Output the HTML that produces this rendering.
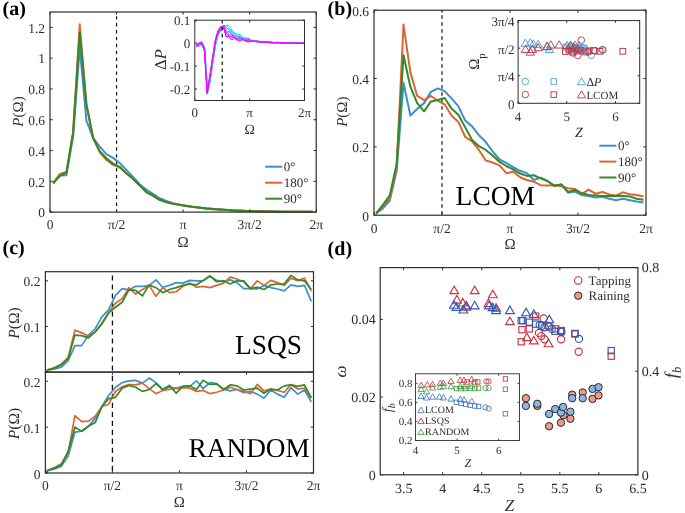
<!DOCTYPE html>
<html><head><meta charset="utf-8"><style>
html,body{margin:0;padding:0;background:#fff;}
svg{display:block;font-family:"Liberation Serif",serif;text-rendering:geometricPrecision;will-change:transform;}
</style></head><body>
<svg width="685" height="513" viewBox="0 0 685 513">
<line x1="116.55" y1="12" x2="116.55" y2="212.1" stroke="#111" stroke-width="1.2" stroke-dasharray="3.4,3.5" stroke-dashoffset="2.7"/>
<polyline points="53.13,183.32 59.78,175.47 66.44,175.16 73.09,136.68 79.75,47.4 86.4,120.67 93.06,137.76 99.71,146.68 106.37,154.07 113.02,157.92 119.68,163 126.33,169.93 132.99,176.85 139.64,184.24 146.3,189.63 152.95,193.94 159.61,198.25 166.26,201.02 172.92,203.17 179.57,204.56 186.23,205.79 192.88,206.71 199.54,207.48 206.19,208.25 212.85,208.87 219.5,209.33 226.16,209.79 232.81,210.25 239.47,210.56 246.12,210.87 252.78,211.02 259.43,211.18 266.09,211.33 272.74,211.48 279.4,211.48 286.05,211.64 292.71,211.64 299.36,211.79 306.02,211.79 312.67,211.79" fill="none" stroke="#3F8FCB" stroke-width="2.0" stroke-linejoin="round" />
<polyline points="53.13,182.85 59.78,174.08 66.44,172.08 73.09,132.83 79.75,24.31 86.4,104.35 93.06,137.76 99.71,152.07 106.37,159.77 113.02,164.85 119.68,167.46 126.33,173.16 132.99,178.85 139.64,185.63 146.3,192.09 152.95,195.94 159.61,200.09 166.26,202.25 172.92,203.79 179.57,205.02 186.23,206.1 192.88,207.02 199.54,207.79 206.19,208.56 212.85,209.18 219.5,209.64 226.16,210.1 232.81,210.41 239.47,210.71 246.12,211.02 252.78,211.18 259.43,211.33 266.09,211.48 272.74,211.48 279.4,211.64 286.05,211.64 292.71,211.79 299.36,211.79 306.02,211.79 312.67,211.79" fill="none" stroke="#DC6437" stroke-width="2.0" stroke-linejoin="round" />
<polyline points="53.13,183.32 59.78,176.08 66.44,172.54 73.09,132.83 79.75,32.63 86.4,104.35 93.06,137.76 99.71,151.15 106.37,158.23 113.02,163.61 119.68,166.85 126.33,173.16 132.99,178.85 139.64,185.16 146.3,192.09 152.95,195.32 159.61,199.63 166.26,201.94 172.92,203.63 179.57,204.87 186.23,205.94 192.88,206.87 199.54,207.64 206.19,208.41 212.85,209.02 219.5,209.48 226.16,209.95 232.81,210.41 239.47,210.71 246.12,211.02 252.78,211.18 259.43,211.33 266.09,211.48 272.74,211.48 279.4,211.64 286.05,211.64 292.71,211.79 299.36,211.79 306.02,211.79 312.67,211.79" fill="none" stroke="#338A25" stroke-width="2.0" stroke-linejoin="round" />
<rect x="50" y="12" width="266.2" height="200.1" fill="none" stroke="#2e2e2e" stroke-width="1.2"/>
<line x1="50" y1="212.1" x2="50" y2="209.4" stroke="#2e2e2e" stroke-width="1.0" />
<line x1="50" y1="12" x2="50" y2="14.7" stroke="#2e2e2e" stroke-width="1.0" />
<line x1="116.55" y1="212.1" x2="116.55" y2="209.4" stroke="#2e2e2e" stroke-width="1.0" />
<line x1="116.55" y1="12" x2="116.55" y2="14.7" stroke="#2e2e2e" stroke-width="1.0" />
<line x1="183.1" y1="212.1" x2="183.1" y2="209.4" stroke="#2e2e2e" stroke-width="1.0" />
<line x1="183.1" y1="12" x2="183.1" y2="14.7" stroke="#2e2e2e" stroke-width="1.0" />
<line x1="249.65" y1="212.1" x2="249.65" y2="209.4" stroke="#2e2e2e" stroke-width="1.0" />
<line x1="249.65" y1="12" x2="249.65" y2="14.7" stroke="#2e2e2e" stroke-width="1.0" />
<line x1="316.2" y1="212.1" x2="316.2" y2="209.4" stroke="#2e2e2e" stroke-width="1.0" />
<line x1="316.2" y1="12" x2="316.2" y2="14.7" stroke="#2e2e2e" stroke-width="1.0" />
<line x1="50" y1="212.1" x2="52.7" y2="212.1" stroke="#2e2e2e" stroke-width="1.0" />
<line x1="316.2" y1="212.1" x2="313.5" y2="212.1" stroke="#2e2e2e" stroke-width="1.0" />
<line x1="50" y1="181.32" x2="52.7" y2="181.32" stroke="#2e2e2e" stroke-width="1.0" />
<line x1="316.2" y1="181.32" x2="313.5" y2="181.32" stroke="#2e2e2e" stroke-width="1.0" />
<line x1="50" y1="150.53" x2="52.7" y2="150.53" stroke="#2e2e2e" stroke-width="1.0" />
<line x1="316.2" y1="150.53" x2="313.5" y2="150.53" stroke="#2e2e2e" stroke-width="1.0" />
<line x1="50" y1="119.75" x2="52.7" y2="119.75" stroke="#2e2e2e" stroke-width="1.0" />
<line x1="316.2" y1="119.75" x2="313.5" y2="119.75" stroke="#2e2e2e" stroke-width="1.0" />
<line x1="50" y1="88.96" x2="52.7" y2="88.96" stroke="#2e2e2e" stroke-width="1.0" />
<line x1="316.2" y1="88.96" x2="313.5" y2="88.96" stroke="#2e2e2e" stroke-width="1.0" />
<line x1="50" y1="58.18" x2="52.7" y2="58.18" stroke="#2e2e2e" stroke-width="1.0" />
<line x1="316.2" y1="58.18" x2="313.5" y2="58.18" stroke="#2e2e2e" stroke-width="1.0" />
<line x1="50" y1="27.39" x2="52.7" y2="27.39" stroke="#2e2e2e" stroke-width="1.0" />
<line x1="316.2" y1="27.39" x2="313.5" y2="27.39" stroke="#2e2e2e" stroke-width="1.0" />
<text x="45" y="217.4" font-size="13.5" text-anchor="end" fill="#2e2e2e" >0</text>
<text x="45" y="186.62" font-size="13.5" text-anchor="end" fill="#2e2e2e" >0.2</text>
<text x="45" y="155.83" font-size="13.5" text-anchor="end" fill="#2e2e2e" >0.4</text>
<text x="45" y="125.05" font-size="13.5" text-anchor="end" fill="#2e2e2e" >0.6</text>
<text x="45" y="94.26" font-size="13.5" text-anchor="end" fill="#2e2e2e" >0.8</text>
<text x="45" y="63.48" font-size="13.5" text-anchor="end" fill="#2e2e2e" >1</text>
<text x="45" y="32.69" font-size="13.5" text-anchor="end" fill="#2e2e2e" >1.2</text>
<text x="50" y="228.8" font-size="13.5" text-anchor="middle" fill="#2e2e2e" >0</text>
<text x="116.55" y="228.8" font-size="13.5" text-anchor="middle" fill="#2e2e2e" >π/2</text>
<text x="183.1" y="228.8" font-size="13.5" text-anchor="middle" fill="#2e2e2e" >π</text>
<text x="249.65" y="228.8" font-size="13.5" text-anchor="middle" fill="#2e2e2e" >3π/2</text>
<text x="316.2" y="228.8" font-size="13.5" text-anchor="middle" fill="#2e2e2e" >2π</text>
<text x="183.1" y="246.5" font-size="15" text-anchor="middle" fill="#2e2e2e" >Ω</text>
<text transform="translate(23,111.5) rotate(-90)" font-size="15" text-anchor="middle" fill="#2e2e2e"><tspan font-style="italic">P</tspan>(Ω)</text>
<text x="2.5" y="15.2" font-size="20" text-anchor="start" font-weight="bold" fill="#000" >(a)</text>
<line x1="265.2" y1="166.7" x2="282.3" y2="166.7" stroke="#3F8FCB" stroke-width="2.0" />
<text x="283.8" y="171.2" font-size="13" text-anchor="start" fill="#2e2e2e" >0°</text>
<line x1="265.2" y1="182.7" x2="282.3" y2="182.7" stroke="#DC6437" stroke-width="2.0" />
<text x="283.8" y="187.2" font-size="13" text-anchor="start" fill="#2e2e2e" >180°</text>
<line x1="265.2" y1="198.7" x2="282.3" y2="198.7" stroke="#338A25" stroke-width="2.0" />
<text x="283.8" y="203.2" font-size="13" text-anchor="start" fill="#2e2e2e" >90°</text>
<rect x="194.8" y="20.2" width="109.7" height="80.3" fill="#fff" stroke="none"/>
<polyline points="196.67,46.46 199.41,46.1 202.16,42.66 204.9,49.1 207.64,93.3 210.38,81.27 213.13,61.47 215.87,44.63 218.61,34.18 221.35,30.76 224.1,27.25 226.84,25.03 229.58,26.03 232.32,31.04 235.07,33.71 237.81,34.47 240.55,34.82 243.29,37.39 246.04,38.89 248.78,37.94 251.52,40.58 254.26,40.29 257.01,41.27 259.75,41.63 262.49,41.89 265.23,41.94 267.98,41.71 270.72,42.52 273.46,42.38 276.2,42.33 278.95,42.8 281.69,42.64 284.43,43.31 287.17,43.32 289.92,43.18 292.66,42.98 295.4,43.21 298.14,43.31 300.89,43.06 303.63,43.19" fill="none" stroke="#00ffff" stroke-width="1.0" stroke-linejoin="round" />
<polyline points="196.6,46.49 199.35,43.96 202.09,42.45 204.83,48.81 207.57,92.86 210.32,78.06 213.06,60.17 215.8,43.39 218.54,32.12 221.29,30.35 224.03,26.28 226.77,25.31 229.51,29.42 232.26,30.87 235,35.01 237.74,34.88 240.48,35.84 243.23,37.73 245.97,37.6 248.71,40.25 251.45,40.11 254.2,40.63 256.94,41.08 259.68,41.42 262.42,41.3 265.17,41.41 267.91,42.07 270.65,42.1 273.39,42.88 276.14,42.3 278.88,42.55 281.62,42.26 284.36,42.62 287.11,43.11 289.85,43.02 292.59,42.99 295.33,43.58 298.08,43.18 300.82,43.45 303.56,43.49" fill="none" stroke="#1ce3ff" stroke-width="1.0" stroke-linejoin="round" />
<polyline points="196.54,47.21 199.28,43.96 202.02,44.23 204.77,49.05 207.51,91.91 210.25,80.03 212.99,60.49 215.74,42.12 218.48,32.12 221.22,27.84 223.96,24.92 226.71,28.2 229.45,29.8 232.19,32.28 234.93,33.01 237.68,34.48 240.42,38.25 243.16,39.34 245.9,39.93 248.65,40.69 251.39,40.43 254.13,40.74 256.87,41.45 259.62,41.92 262.36,41.76 265.1,41.99 267.84,42.04 270.59,41.86 273.33,42.33 276.07,42.49 278.81,42.58 281.56,42.57 284.3,43.32 287.04,42.55 289.78,42.66 292.53,42.8 295.27,42.87 298.01,43.24 300.75,43.24 303.5,43.51" fill="none" stroke="#39c6ff" stroke-width="1.0" stroke-linejoin="round" />
<polyline points="196.47,45.31 199.21,46.15 201.96,44.38 204.7,49.43 207.44,93.37 210.18,79.53 212.93,61.34 215.67,42.96 218.41,34.33 221.15,29.05 223.9,27.69 226.64,27.64 229.38,30.39 232.12,33.95 234.87,35.76 237.61,36.98 240.35,38 243.09,39.84 245.84,38.2 248.58,38.42 251.32,40.57 254.06,40.94 256.81,41.69 259.55,41.9 262.29,41.91 265.03,42.14 267.78,41.85 270.52,42.61 273.26,42.97 276,42.12 278.75,42.66 281.49,43.08 284.23,42.87 286.97,43.35 289.72,42.89 292.46,42.7 295.2,42.81 297.94,42.96 300.69,43.36 303.43,43.27" fill="none" stroke="#55aaff" stroke-width="1.0" stroke-linejoin="round" />
<polyline points="196.4,46.76 199.15,43.8 201.89,42.83 204.63,47.85 207.37,93.69 210.12,76.51 212.86,57.59 215.6,40.28 218.34,31.76 221.09,27.33 223.83,25.47 226.57,31.07 229.31,31.92 232.06,34.28 234.8,37.19 237.54,38.54 240.28,38.7 243.03,39.74 245.77,38.96 248.51,38.72 251.25,40.72 254,40.63 256.74,40.94 259.48,41.2 262.22,41.97 264.97,42.23 267.71,42.45 270.45,42.61 273.19,42.83 275.94,42.44 278.68,42.32 281.42,42.47 284.16,42.93 286.91,42.77 289.65,42.64 292.39,43.52 295.13,43 297.88,42.77 300.62,42.88 303.36,42.91" fill="none" stroke="#718eff" stroke-width="1.0" stroke-linejoin="round" />
<polyline points="196.34,45.71 199.08,45.63 201.82,41.96 204.57,49.54 207.31,91.63 210.05,77.25 212.79,58.88 215.54,39.54 218.28,31.71 221.02,29.16 223.76,27.52 226.51,32.66 229.25,31.9 231.99,33.82 234.73,37.52 237.48,36.51 240.22,36.88 242.96,38.79 245.7,40.31 248.45,40.21 251.19,41.14 253.93,41.57 256.67,41.03 259.42,41.55 262.16,41.89 264.9,41.62 267.64,42.31 270.39,42.01 273.13,42.28 275.87,42.85 278.61,42.91 281.36,43 284.1,43.15 286.84,42.83 289.58,43.13 292.33,43.22 295.07,43.48 297.81,42.77 300.55,43.28 303.3,43.18" fill="none" stroke="#8e71ff" stroke-width="1.0" stroke-linejoin="round" />
<polyline points="196.27,45.32 199.01,43.22 201.76,43.09 204.5,47.92 207.24,92.84 209.98,76.26 212.73,59.53 215.47,40.73 218.21,33.15 220.95,29.44 223.7,25.43 226.44,33.95 229.18,34.51 231.92,35.08 234.67,36.92 237.41,38.65 240.15,38.8 242.89,39.45 245.64,39.17 248.38,41.81 251.12,40.87 253.86,41.46 256.61,41.74 259.35,41.52 262.09,41.99 264.83,42.02 267.58,42.06 270.32,42 273.06,42.66 275.8,42.5 278.55,42.68 281.29,42.83 284.03,42.74 286.77,42.96 289.52,42.88 292.26,43.16 295,42.74 297.74,42.96 300.49,42.8 303.23,42.74" fill="none" stroke="#aa55ff" stroke-width="1.0" stroke-linejoin="round" />
<polyline points="196.2,46.31 198.95,44.25 201.69,41.36 204.43,48.42 207.17,93.97 209.92,75.93 212.66,58.77 215.4,40.94 218.14,33.2 220.89,27.05 223.63,25.56 226.37,32.97 229.11,36.76 231.86,36.1 234.6,37.3 237.34,39.78 240.08,38.06 242.83,38.45 245.57,41.24 248.31,39.27 251.05,41.15 253.8,41.34 256.54,41.16 259.28,41.54 262.02,42.38 264.77,42.19 267.51,42.34 270.25,42.55 272.99,42.91 275.74,42.8 278.48,42.48 281.22,43.3 283.96,42.86 286.71,42.97 289.45,43.36 292.19,43.3 294.93,43.03 297.68,43.13 300.42,43.54 303.16,42.7" fill="none" stroke="#c639ff" stroke-width="1.0" stroke-linejoin="round" />
<polyline points="196.14,44.56 198.88,42.85 201.62,44 204.37,50.52 207.11,92.16 209.85,75.9 212.59,58 215.34,39.93 218.08,30.2 220.82,26.31 223.56,27.32 226.31,36.72 229.05,35.53 231.79,37.56 234.53,37.89 237.28,40.48 240.02,41.15 242.76,39.68 245.5,40.83 248.25,42.27 250.99,40.78 253.73,41.31 256.47,41.41 259.22,42.3 261.96,41.82 264.7,42.57 267.44,42.07 270.19,42.47 272.93,42.81 275.67,42.61 278.41,42.29 281.16,43.1 283.9,43.25 286.64,42.89 289.38,43.15 292.13,43.5 294.87,43.45 297.61,43.56 300.35,43.42 303.1,43.32" fill="none" stroke="#e31cff" stroke-width="1.0" stroke-linejoin="round" />
<polyline points="196.07,46.06 198.81,43.46 201.56,43.36 204.3,50.03 207.04,93.35 209.78,76.12 212.53,57.02 215.27,40.8 218.01,30.46 220.75,26.92 223.5,27.62 226.24,37.03 228.98,36.7 231.72,40.05 234.47,38.22 237.21,39.92 239.95,40.18 242.69,39.54 245.44,41.19 248.18,41.06 250.92,41.14 253.66,41.09 256.41,41.91 259.15,41.69 261.89,42.04 264.63,42.1 267.38,42.54 270.12,42.59 272.86,43.09 275.6,43.02 278.35,43.08 281.09,42.69 283.83,43.14 286.57,43.22 289.32,43.29 292.06,42.83 294.8,42.8 297.54,42.99 300.29,43.34 303.03,43.38" fill="none" stroke="#ff00ff" stroke-width="1.0" stroke-linejoin="round" />
<line x1="222.23" y1="20.2" x2="222.23" y2="100.5" stroke="#111" stroke-width="1.2" stroke-dasharray="3.4,3.5"/>
<rect x="194.8" y="20.2" width="109.7" height="80.3" fill="none" stroke="#2e2e2e" stroke-width="1.0"/>
<line x1="194.8" y1="100.5" x2="194.8" y2="98.3" stroke="#2e2e2e" stroke-width="1.0" />
<line x1="194.8" y1="20.2" x2="194.8" y2="22.4" stroke="#2e2e2e" stroke-width="1.0" />
<line x1="249.65" y1="100.5" x2="249.65" y2="98.3" stroke="#2e2e2e" stroke-width="1.0" />
<line x1="249.65" y1="20.2" x2="249.65" y2="22.4" stroke="#2e2e2e" stroke-width="1.0" />
<line x1="304.5" y1="100.5" x2="304.5" y2="98.3" stroke="#2e2e2e" stroke-width="1.0" />
<line x1="304.5" y1="20.2" x2="304.5" y2="22.4" stroke="#2e2e2e" stroke-width="1.0" />
<line x1="194.8" y1="89.03" x2="197" y2="89.03" stroke="#2e2e2e" stroke-width="1.0" />
<line x1="304.5" y1="89.03" x2="302.3" y2="89.03" stroke="#2e2e2e" stroke-width="1.0" />
<line x1="194.8" y1="66.09" x2="197" y2="66.09" stroke="#2e2e2e" stroke-width="1.0" />
<line x1="304.5" y1="66.09" x2="302.3" y2="66.09" stroke="#2e2e2e" stroke-width="1.0" />
<line x1="194.8" y1="43.14" x2="197" y2="43.14" stroke="#2e2e2e" stroke-width="1.0" />
<line x1="304.5" y1="43.14" x2="302.3" y2="43.14" stroke="#2e2e2e" stroke-width="1.0" />
<line x1="194.8" y1="20.2" x2="197" y2="20.2" stroke="#2e2e2e" stroke-width="1.0" />
<line x1="304.5" y1="20.2" x2="302.3" y2="20.2" stroke="#2e2e2e" stroke-width="1.0" />
<text x="190.3" y="24.8" font-size="13" text-anchor="end" fill="#2e2e2e" >0.1</text>
<text x="190.3" y="47.74" font-size="13" text-anchor="end" fill="#2e2e2e" >0</text>
<text x="190.3" y="70.69" font-size="13" text-anchor="end" fill="#2e2e2e" >-0.1</text>
<text x="190.3" y="93.63" font-size="13" text-anchor="end" fill="#2e2e2e" >-0.2</text>
<text x="194.8" y="117" font-size="13" text-anchor="middle" fill="#2e2e2e" >0</text>
<text x="249.65" y="117" font-size="13" text-anchor="middle" fill="#2e2e2e" >π</text>
<text x="304.5" y="117" font-size="13" text-anchor="middle" fill="#2e2e2e" >2π</text>
<text x="249.65" y="133.5" font-size="14" text-anchor="middle" fill="#2e2e2e" >Ω</text>
<text transform="translate(166.3,59.6) rotate(-90)" font-size="16.5" text-anchor="middle" fill="#2e2e2e">Δ<tspan font-style="italic">P</tspan></text>
<line x1="442" y1="10.2" x2="442" y2="215.2" stroke="#111" stroke-width="1.2" stroke-dasharray="3.5,3.5" stroke-dashoffset="1.9"/>
<polyline points="376.07,213.49 382.93,208.37 389.78,200.51 396.64,171.12 403.5,82.97 410.36,115.43 417.21,108.94 424.07,103.13 430.93,91.86 437.78,88.44 444.64,91.17 451.5,98.35 458.35,106.21 465.21,120.56 472.07,126.37 478.93,135.25 485.78,142.08 492.64,151.31 499.5,159.51 506.35,162.92 513.21,167.02 520.07,170.78 526.92,173.17 533.78,180.01 540.64,177.62 547.5,181.03 554.35,185.82 561.21,184.45 568.07,192.65 574.92,191.62 581.78,195.04 588.64,196.07 595.49,197.43 602.35,196.75 609.21,198.8 616.07,200.17 622.92,198.8 629.78,200.17 636.64,201.53 643.49,202.56" fill="none" stroke="#3F8FCB" stroke-width="2.0" stroke-linejoin="round" />
<polyline points="376.07,213.49 382.93,206.66 389.78,198.12 396.64,167.37 403.5,24.55 410.36,72.38 417.21,95.96 424.07,100.06 430.93,95.96 437.78,100.74 444.64,104.5 451.5,115.43 458.35,121.92 465.21,136.96 472.07,141.4 478.93,149.94 485.78,160.53 492.64,162.58 499.5,165.32 506.35,173.17 513.21,171.81 520.07,177.27 526.92,180.01 533.78,181.72 540.64,185.13 547.5,185.47 554.35,185.13 561.21,186.16 568.07,188.21 574.92,188.89 581.78,194.02 588.64,189.57 595.49,193.67 602.35,191.97 609.21,194.36 616.07,195.72 622.92,192.31 629.78,194.36 636.64,195.04 643.49,196.41" fill="none" stroke="#DC6437" stroke-width="2.0" stroke-linejoin="round" />
<polyline points="376.07,213.49 382.93,204.95 389.78,195.38 396.64,163.95 403.5,55.3 410.36,86.73 417.21,103.13 424.07,111.33 430.93,101.42 437.78,100.06 444.64,98.01 451.5,108.6 458.35,114.75 465.21,127.39 472.07,140.03 478.93,146.18 485.78,149.94 492.64,155.41 499.5,161.9 506.35,166 513.21,169.42 520.07,173.52 526.92,175.91 533.78,175.22 540.64,178.3 547.5,181.03 554.35,185.82 561.21,184.45 568.07,191.97 574.92,189.92 581.78,193.33 588.64,195.04 595.49,195.38 602.35,196.07 609.21,196.07 616.07,195.72 622.92,196.07 629.78,196.41 636.64,198.8 643.49,199.82" fill="none" stroke="#338A25" stroke-width="2.0" stroke-linejoin="round" />
<rect x="374" y="10.2" width="272" height="205" fill="none" stroke="#2e2e2e" stroke-width="1.2"/>
<line x1="374" y1="215.2" x2="374" y2="212.5" stroke="#2e2e2e" stroke-width="1.0" />
<line x1="374" y1="10.2" x2="374" y2="12.9" stroke="#2e2e2e" stroke-width="1.0" />
<line x1="442" y1="215.2" x2="442" y2="212.5" stroke="#2e2e2e" stroke-width="1.0" />
<line x1="442" y1="10.2" x2="442" y2="12.9" stroke="#2e2e2e" stroke-width="1.0" />
<line x1="510" y1="215.2" x2="510" y2="212.5" stroke="#2e2e2e" stroke-width="1.0" />
<line x1="510" y1="10.2" x2="510" y2="12.9" stroke="#2e2e2e" stroke-width="1.0" />
<line x1="578" y1="215.2" x2="578" y2="212.5" stroke="#2e2e2e" stroke-width="1.0" />
<line x1="578" y1="10.2" x2="578" y2="12.9" stroke="#2e2e2e" stroke-width="1.0" />
<line x1="646" y1="215.2" x2="646" y2="212.5" stroke="#2e2e2e" stroke-width="1.0" />
<line x1="646" y1="10.2" x2="646" y2="12.9" stroke="#2e2e2e" stroke-width="1.0" />
<line x1="374" y1="215.2" x2="376.7" y2="215.2" stroke="#2e2e2e" stroke-width="1.0" />
<line x1="646" y1="215.2" x2="643.3" y2="215.2" stroke="#2e2e2e" stroke-width="1.0" />
<line x1="374" y1="146.87" x2="376.7" y2="146.87" stroke="#2e2e2e" stroke-width="1.0" />
<line x1="646" y1="146.87" x2="643.3" y2="146.87" stroke="#2e2e2e" stroke-width="1.0" />
<line x1="374" y1="78.53" x2="376.7" y2="78.53" stroke="#2e2e2e" stroke-width="1.0" />
<line x1="646" y1="78.53" x2="643.3" y2="78.53" stroke="#2e2e2e" stroke-width="1.0" />
<line x1="374" y1="10.2" x2="376.7" y2="10.2" stroke="#2e2e2e" stroke-width="1.0" />
<line x1="646" y1="10.2" x2="643.3" y2="10.2" stroke="#2e2e2e" stroke-width="1.0" />
<text x="369" y="220.5" font-size="13.5" text-anchor="end" fill="#2e2e2e" >0</text>
<text x="369" y="152.17" font-size="13.5" text-anchor="end" fill="#2e2e2e" >0.2</text>
<text x="369" y="83.83" font-size="13.5" text-anchor="end" fill="#2e2e2e" >0.4</text>
<text x="369" y="15.5" font-size="13.5" text-anchor="end" fill="#2e2e2e" >0.6</text>
<text x="374" y="232.5" font-size="13.5" text-anchor="middle" fill="#2e2e2e" >0</text>
<text x="442" y="232.5" font-size="13.5" text-anchor="middle" fill="#2e2e2e" >π/2</text>
<text x="510" y="232.5" font-size="13.5" text-anchor="middle" fill="#2e2e2e" >π</text>
<text x="578" y="232.5" font-size="13.5" text-anchor="middle" fill="#2e2e2e" >3π/2</text>
<text x="646" y="232.5" font-size="13.5" text-anchor="middle" fill="#2e2e2e" >2π</text>
<text x="510" y="249" font-size="15" text-anchor="middle" fill="#2e2e2e" >Ω</text>
<text transform="translate(346.6,111.7) rotate(-90)" font-size="15" text-anchor="middle" fill="#2e2e2e"><tspan font-style="italic">P</tspan>(Ω)</text>
<text x="327.6" y="15.2" font-size="20" text-anchor="start" font-weight="bold" fill="#000" >(b)</text>
<text x="455.6" y="205.2" font-size="27.5" text-anchor="start" fill="#000" >LCOM</text>
<line x1="599.3" y1="145.7" x2="616.4" y2="145.7" stroke="#3F8FCB" stroke-width="2.0" />
<text x="618" y="150.2" font-size="13" text-anchor="start" fill="#2e2e2e" >0°</text>
<line x1="599.3" y1="161.6" x2="616.4" y2="161.6" stroke="#DC6437" stroke-width="2.0" />
<text x="618" y="166.1" font-size="13" text-anchor="start" fill="#2e2e2e" >180°</text>
<line x1="599.3" y1="177.5" x2="616.4" y2="177.5" stroke="#338A25" stroke-width="2.0" />
<text x="618" y="182" font-size="13" text-anchor="start" fill="#2e2e2e" >90°</text>
<rect x="518.1" y="20.6" width="121.6" height="82.7" fill="#fff" stroke="none"/>
<rect x="518.1" y="20.6" width="121.6" height="82.7" fill="none" stroke="#2e2e2e" stroke-width="1.0"/>
<line x1="518.1" y1="103.3" x2="518.1" y2="101.1" stroke="#2e2e2e" stroke-width="1.0" />
<line x1="518.1" y1="20.6" x2="518.1" y2="22.8" stroke="#2e2e2e" stroke-width="1.0" />
<line x1="566.74" y1="103.3" x2="566.74" y2="101.1" stroke="#2e2e2e" stroke-width="1.0" />
<line x1="566.74" y1="20.6" x2="566.74" y2="22.8" stroke="#2e2e2e" stroke-width="1.0" />
<line x1="615.38" y1="103.3" x2="615.38" y2="101.1" stroke="#2e2e2e" stroke-width="1.0" />
<line x1="615.38" y1="20.6" x2="615.38" y2="22.8" stroke="#2e2e2e" stroke-width="1.0" />
<line x1="518.1" y1="103.3" x2="520.3" y2="103.3" stroke="#2e2e2e" stroke-width="1.0" />
<line x1="639.7" y1="103.3" x2="637.5" y2="103.3" stroke="#2e2e2e" stroke-width="1.0" />
<line x1="518.1" y1="75.73" x2="520.3" y2="75.73" stroke="#2e2e2e" stroke-width="1.0" />
<line x1="639.7" y1="75.73" x2="637.5" y2="75.73" stroke="#2e2e2e" stroke-width="1.0" />
<line x1="518.1" y1="48.17" x2="520.3" y2="48.17" stroke="#2e2e2e" stroke-width="1.0" />
<line x1="639.7" y1="48.17" x2="637.5" y2="48.17" stroke="#2e2e2e" stroke-width="1.0" />
<line x1="518.1" y1="20.6" x2="520.3" y2="20.6" stroke="#2e2e2e" stroke-width="1.0" />
<line x1="639.7" y1="20.6" x2="637.5" y2="20.6" stroke="#2e2e2e" stroke-width="1.0" />
<text x="514.6" y="108.8" font-size="13" text-anchor="end" fill="#2e2e2e" >0</text>
<text x="514.6" y="81.23" font-size="13" text-anchor="end" fill="#2e2e2e" >π/4</text>
<text x="514.6" y="53.67" font-size="13" text-anchor="end" fill="#2e2e2e" >π/2</text>
<text x="514.6" y="26.1" font-size="13" text-anchor="end" fill="#2e2e2e" >3π/4</text>
<text x="518.1" y="121" font-size="13" text-anchor="middle" fill="#2e2e2e" >4</text>
<text x="566.74" y="121" font-size="13" text-anchor="middle" fill="#2e2e2e" >5</text>
<text x="615.38" y="121" font-size="13" text-anchor="middle" fill="#2e2e2e" >6</text>
<text x="579" y="136.5" font-size="14" text-anchor="middle" font-style="italic" fill="#2e2e2e" >Z</text>
<text transform="translate(479,61.5) rotate(-90)" font-size="15" text-anchor="middle" fill="#2e2e2e">Ω<tspan font-size="11" dy="5.5">p</tspan></text>
<polygon points="521.2,46.35 529.6,46.35 525.4,39.05" fill="none" stroke="#4A9FD2" stroke-width="0.95" stroke-linejoin="miter"/>
<polygon points="526.1,45.95 534.5,45.95 530.3,38.65" fill="none" stroke="#4A9FD2" stroke-width="0.95" stroke-linejoin="miter"/>
<polygon points="529.1,47.15 537.5,47.15 533.3,39.85" fill="none" stroke="#4A9FD2" stroke-width="0.95" stroke-linejoin="miter"/>
<polygon points="533.9,47.65 542.3,47.65 538.1,40.35" fill="none" stroke="#4A9FD2" stroke-width="0.95" stroke-linejoin="miter"/>
<polygon points="543.1,49.85 551.5,49.85 547.3,42.55" fill="none" stroke="#4A9FD2" stroke-width="0.95" stroke-linejoin="miter"/>
<polygon points="545.3,52.45 553.7,52.45 549.5,45.15" fill="none" stroke="#4A9FD2" stroke-width="0.95" stroke-linejoin="miter"/>
<polygon points="562.8,48.65 571.2,48.65 567,41.35" fill="none" stroke="#4A9FD2" stroke-width="0.95" stroke-linejoin="miter"/>
<polygon points="566.8,49.15 575.2,49.15 571,41.85" fill="none" stroke="#4A9FD2" stroke-width="0.95" stroke-linejoin="miter"/>
<polygon points="570.8,48.15 579.2,48.15 575,40.85" fill="none" stroke="#4A9FD2" stroke-width="0.95" stroke-linejoin="miter"/>
<polygon points="574.8,48.65 583.2,48.65 579,41.35" fill="none" stroke="#4A9FD2" stroke-width="0.95" stroke-linejoin="miter"/>
<rect x="563.1" y="44.1" width="5.8" height="5.8" fill="none" stroke="#4A9FD2" stroke-width="0.95"/>
<rect x="566.1" y="45.6" width="5.8" height="5.8" fill="none" stroke="#4A9FD2" stroke-width="0.95"/>
<rect x="569.1" y="44.1" width="5.8" height="5.8" fill="none" stroke="#4A9FD2" stroke-width="0.95"/>
<rect x="573.1" y="45.1" width="5.8" height="5.8" fill="none" stroke="#4A9FD2" stroke-width="0.95"/>
<rect x="577.1" y="46.1" width="5.8" height="5.8" fill="none" stroke="#4A9FD2" stroke-width="0.95"/>
<rect x="581.1" y="45.1" width="5.8" height="5.8" fill="none" stroke="#4A9FD2" stroke-width="0.95"/>
<rect x="568.1" y="47.1" width="5.8" height="5.8" fill="none" stroke="#4A9FD2" stroke-width="0.95"/>
<circle cx="582" cy="47.5" r="3.3" fill="none" stroke="#4A9FD2" stroke-width="0.9"/>
<circle cx="586" cy="50" r="3.3" fill="none" stroke="#4A9FD2" stroke-width="0.9"/>
<circle cx="591.2" cy="55.4" r="3.3" fill="none" stroke="#4A9FD2" stroke-width="0.9"/>
<circle cx="602.3" cy="49.5" r="3.3" fill="none" stroke="#4A9FD2" stroke-width="0.9"/>
<circle cx="575" cy="49" r="3.3" fill="none" stroke="#4A9FD2" stroke-width="0.9"/>
<polygon points="521.2,52.45 529.6,52.45 525.4,45.15" fill="none" stroke="#B8394A" stroke-width="0.95" stroke-linejoin="miter"/>
<polygon points="526.1,55.15 534.5,55.15 530.3,47.85" fill="none" stroke="#B8394A" stroke-width="0.95" stroke-linejoin="miter"/>
<polygon points="528.2,52.45 536.6,52.45 532.4,45.15" fill="none" stroke="#B8394A" stroke-width="0.95" stroke-linejoin="miter"/>
<polygon points="533.9,50.75 542.3,50.75 538.1,43.45" fill="none" stroke="#B8394A" stroke-width="0.95" stroke-linejoin="miter"/>
<polygon points="542.7,49.45 551.1,49.45 546.9,42.15" fill="none" stroke="#B8394A" stroke-width="0.95" stroke-linejoin="miter"/>
<polygon points="546.6,48.05 555,48.05 550.8,40.75" fill="none" stroke="#B8394A" stroke-width="0.95" stroke-linejoin="miter"/>
<polygon points="555,48.05 563.4,48.05 559.2,40.75" fill="none" stroke="#B8394A" stroke-width="0.95" stroke-linejoin="miter"/>
<polygon points="566.3,48.55 574.7,48.55 570.5,41.25" fill="none" stroke="#B8394A" stroke-width="0.95" stroke-linejoin="miter"/>
<polygon points="569.8,50.65 578.2,50.65 574,43.35" fill="none" stroke="#B8394A" stroke-width="0.95" stroke-linejoin="miter"/>
<polygon points="573.8,51.65 582.2,51.65 578,44.35" fill="none" stroke="#B8394A" stroke-width="0.95" stroke-linejoin="miter"/>
<rect x="562.6" y="48.6" width="5.8" height="5.8" fill="none" stroke="#B8394A" stroke-width="0.95"/>
<rect x="566.1" y="47.1" width="5.8" height="5.8" fill="none" stroke="#B8394A" stroke-width="0.95"/>
<rect x="570.1" y="49.1" width="5.8" height="5.8" fill="none" stroke="#B8394A" stroke-width="0.95"/>
<rect x="574.1" y="48.1" width="5.8" height="5.8" fill="none" stroke="#B8394A" stroke-width="0.95"/>
<rect x="578.1" y="47.6" width="5.8" height="5.8" fill="none" stroke="#B8394A" stroke-width="0.95"/>
<rect x="582.1" y="49.1" width="5.8" height="5.8" fill="none" stroke="#B8394A" stroke-width="0.95"/>
<rect x="586.1" y="48.1" width="5.8" height="5.8" fill="none" stroke="#B8394A" stroke-width="0.95"/>
<rect x="590.6" y="47.6" width="5.8" height="5.8" fill="none" stroke="#B8394A" stroke-width="0.95"/>
<rect x="597.1" y="48.4" width="5.8" height="5.8" fill="none" stroke="#B8394A" stroke-width="0.95"/>
<rect x="619.9" y="48.4" width="5.8" height="5.8" fill="none" stroke="#B8394A" stroke-width="0.95"/>
<circle cx="581.3" cy="40.2" r="3.3" fill="none" stroke="#B8394A" stroke-width="0.9"/>
<circle cx="577.8" cy="55.4" r="3.3" fill="none" stroke="#B8394A" stroke-width="0.9"/>
<circle cx="588" cy="52" r="3.3" fill="none" stroke="#B8394A" stroke-width="0.9"/>
<circle cx="595" cy="51" r="3.3" fill="none" stroke="#B8394A" stroke-width="0.9"/>
<circle cx="602.9" cy="50.1" r="3.3" fill="none" stroke="#B8394A" stroke-width="0.9"/>
<circle cx="573" cy="53" r="3.3" fill="none" stroke="#B8394A" stroke-width="0.9"/>
<circle cx="525.3" cy="81.5" r="3.3" fill="none" stroke="#4A9FD2" stroke-width="0.9"/>
<rect x="551" y="78.7" width="5.6" height="5.6" fill="none" stroke="#4A9FD2" stroke-width="0.9"/>
<polygon points="577.4,84.77 585.6,84.77 581.5,77.63" fill="none" stroke="#4A9FD2" stroke-width="0.9" stroke-linejoin="miter"/>
<circle cx="525.3" cy="94.6" r="3.3" fill="none" stroke="#B8394A" stroke-width="0.9"/>
<rect x="551" y="91.8" width="5.6" height="5.6" fill="none" stroke="#B8394A" stroke-width="0.9"/>
<polygon points="577.4,97.87 585.6,97.87 581.5,90.73" fill="none" stroke="#B8394A" stroke-width="0.9" stroke-linejoin="miter"/>
<text x="586.4" y="85.6" font-size="12" fill="#2e2e2e">Δ<tspan font-style="italic">P</tspan></text>
<text x="586.4" y="98.7" font-size="11" text-anchor="start" fill="#2e2e2e" >LCOM</text>
<line x1="112.43" y1="271.7" x2="112.43" y2="372.1" stroke="#111" stroke-width="1.3" stroke-dasharray="5.2,3.8" stroke-dashoffset="5.3"/>
<polyline points="45.4,372.1 47.9,370.27 54.65,368.91 61.4,367.08 68.16,360.69 74.91,345.63 81.66,345.63 88.41,335.13 95.16,328.75 101.92,316.88 108.67,309.58 115.42,295.43 122.17,288.59 128.92,289.95 135.68,286.3 142.43,286.3 149.18,285.39 155.93,279.91 162.68,287.22 169.44,285.39 176.19,282.65 182.94,283.11 189.69,280.37 196.44,280.83 203.2,280.83 209.95,276.26 216.7,280.37 223.45,281.74 230.2,279.91 236.96,282.65 243.71,288.59 250.46,288.59 257.21,289.04 263.96,285.39 270.72,287.67 277.47,289.04 284.22,290.87 290.97,284.93 297.72,286.3 304.48,285.39 311.23,301.36" fill="none" stroke="#3F8FCB" stroke-width="1.7" stroke-linejoin="round" />
<polyline points="45.4,372.1 47.9,369.82 54.65,367.54 61.4,363.89 68.16,357.5 74.91,330.11 81.66,332.85 88.41,336.05 95.16,331.94 101.92,324.18 108.67,312.77 115.42,303.19 122.17,298.63 128.92,287.67 135.68,294.06 142.43,289.5 149.18,285.39 155.93,296.34 162.68,287.67 169.44,292.69 176.19,291.78 182.94,286.3 189.69,283.11 196.44,287.22 203.2,286.3 209.95,287.67 216.7,285.39 223.45,283.11 230.2,277.18 236.96,279 243.71,281.74 250.46,288.59 257.21,280.83 263.96,285.39 270.72,280.37 277.47,282.65 284.22,285.39 290.97,278.09 297.72,280.83 304.48,278.09 311.23,290.87" fill="none" stroke="#DC6437" stroke-width="1.7" stroke-linejoin="round" />
<polyline points="45.4,372.1 47.9,369.82 54.65,367.99 61.4,364.8 68.16,358.41 74.91,335.13 81.66,335.59 88.41,337.87 95.16,331.94 101.92,323.27 108.67,312.77 115.42,307.3 122.17,302.28 128.92,289.95 135.68,290.41 142.43,295.89 149.18,284.93 155.93,287.67 162.68,292.69 169.44,289.5 176.19,287.67 182.94,285.39 189.69,284.02 196.44,284.93 203.2,280.37 209.95,275.81 216.7,281.74 223.45,280.83 230.2,284.02 236.96,280.83 243.71,280.83 250.46,288.59 257.21,287.22 263.96,289.5 270.72,284.93 277.47,284.02 284.22,284.02 290.97,275.35 297.72,279.91 304.48,280.83 311.23,289.5" fill="none" stroke="#338A25" stroke-width="1.7" stroke-linejoin="round" />
<line x1="112.43" y1="372.1" x2="112.43" y2="473" stroke="#111" stroke-width="1.3" stroke-dasharray="5.2,3.8" stroke-dashoffset="5.3"/>
<polyline points="45.4,473 47.9,470.71 54.65,468.87 61.4,466.12 68.16,456.03 74.91,432.18 81.66,431.26 88.41,426.22 95.16,418.42 101.92,406.5 108.67,395.49 115.42,387.24 122.17,382.65 128.92,380.81 135.68,380.36 142.43,383.11 149.18,378.06 155.93,382.65 162.68,389.53 169.44,387.24 176.19,388.15 182.94,386.32 189.69,386.32 196.44,380.81 203.2,388.61 209.95,382.65 216.7,383.57 223.45,389.07 230.2,390.9 236.96,389.53 243.71,392.74 250.46,391.36 257.21,394.11 263.96,398.24 270.72,389.99 277.47,394.11 284.22,397.33 290.97,387.69 297.72,394.11 304.48,389.99 311.23,401.91" fill="none" stroke="#3F8FCB" stroke-width="1.7" stroke-linejoin="round" />
<polyline points="45.4,473 47.9,470.25 54.65,467.5 61.4,463.83 68.16,452.36 74.91,415.67 81.66,421.63 88.41,421.17 95.16,416.13 101.92,406.5 108.67,404.2 115.42,391.36 122.17,386.78 128.92,384.48 135.68,384.94 142.43,383.11 149.18,388.61 155.93,393.66 162.68,390.45 169.44,389.53 176.19,388.61 182.94,387.69 189.69,388.15 196.44,391.36 203.2,390.45 209.95,393.66 216.7,392.28 223.45,389.99 230.2,387.24 236.96,389.53 243.71,391.36 250.46,393.66 257.21,384.48 263.96,390.9 270.72,389.07 277.47,390.45 284.22,392.28 290.97,384.48 297.72,389.07 304.48,388.15 311.23,397.33" fill="none" stroke="#DC6437" stroke-width="1.7" stroke-linejoin="round" />
<polyline points="45.4,473 47.9,470.25 54.65,467.95 61.4,464.74 68.16,451.44 74.91,427.14 81.66,431.26 88.41,426.22 95.16,422.55 101.92,406.5 108.67,398.7 115.42,397.33 122.17,388.15 128.92,385.4 135.68,387.24 142.43,391.36 149.18,389.53 155.93,383.57 162.68,389.53 169.44,385.4 176.19,393.2 182.94,386.32 189.69,385.86 196.44,389.53 203.2,380.36 209.95,384.48 216.7,384.02 223.45,389.53 230.2,384.94 236.96,385.86 243.71,389.99 250.46,389.07 257.21,388.15 263.96,393.2 270.72,389.07 277.47,389.99 284.22,385.86 290.97,384.94 297.72,386.32 304.48,384.94 311.23,398.24" fill="none" stroke="#338A25" stroke-width="1.7" stroke-linejoin="round" />
<rect x="45.4" y="271.7" width="268.1" height="100.4" fill="none" stroke="#2e2e2e" stroke-width="1.2"/>
<line x1="45.4" y1="372.1" x2="48.1" y2="372.1" stroke="#2e2e2e" stroke-width="1.0" />
<line x1="313.5" y1="372.1" x2="310.8" y2="372.1" stroke="#2e2e2e" stroke-width="1.0" />
<line x1="45.4" y1="326.46" x2="48.1" y2="326.46" stroke="#2e2e2e" stroke-width="1.0" />
<line x1="313.5" y1="326.46" x2="310.8" y2="326.46" stroke="#2e2e2e" stroke-width="1.0" />
<line x1="45.4" y1="280.83" x2="48.1" y2="280.83" stroke="#2e2e2e" stroke-width="1.0" />
<line x1="313.5" y1="280.83" x2="310.8" y2="280.83" stroke="#2e2e2e" stroke-width="1.0" />
<rect x="45.4" y="372.1" width="268.1" height="100.9" fill="none" stroke="#2e2e2e" stroke-width="1.2"/>
<line x1="45.4" y1="473" x2="48.1" y2="473" stroke="#2e2e2e" stroke-width="1.0" />
<line x1="313.5" y1="473" x2="310.8" y2="473" stroke="#2e2e2e" stroke-width="1.0" />
<line x1="45.4" y1="427.14" x2="48.1" y2="427.14" stroke="#2e2e2e" stroke-width="1.0" />
<line x1="313.5" y1="427.14" x2="310.8" y2="427.14" stroke="#2e2e2e" stroke-width="1.0" />
<line x1="45.4" y1="381.27" x2="48.1" y2="381.27" stroke="#2e2e2e" stroke-width="1.0" />
<line x1="313.5" y1="381.27" x2="310.8" y2="381.27" stroke="#2e2e2e" stroke-width="1.0" />
<line x1="45.4" y1="473" x2="45.4" y2="470.3" stroke="#2e2e2e" stroke-width="1.0" />
<line x1="45.4" y1="372.1" x2="45.4" y2="374.8" stroke="#2e2e2e" stroke-width="1.0" />
<line x1="112.43" y1="473" x2="112.43" y2="470.3" stroke="#2e2e2e" stroke-width="1.0" />
<line x1="112.43" y1="372.1" x2="112.43" y2="374.8" stroke="#2e2e2e" stroke-width="1.0" />
<line x1="179.45" y1="473" x2="179.45" y2="470.3" stroke="#2e2e2e" stroke-width="1.0" />
<line x1="179.45" y1="372.1" x2="179.45" y2="374.8" stroke="#2e2e2e" stroke-width="1.0" />
<line x1="246.48" y1="473" x2="246.48" y2="470.3" stroke="#2e2e2e" stroke-width="1.0" />
<line x1="246.48" y1="372.1" x2="246.48" y2="374.8" stroke="#2e2e2e" stroke-width="1.0" />
<line x1="313.5" y1="473" x2="313.5" y2="470.3" stroke="#2e2e2e" stroke-width="1.0" />
<line x1="313.5" y1="372.1" x2="313.5" y2="374.8" stroke="#2e2e2e" stroke-width="1.0" />
<text x="40.4" y="332.06" font-size="13.5" text-anchor="end" fill="#2e2e2e" >0.1</text>
<text x="40.4" y="286.43" font-size="13.5" text-anchor="end" fill="#2e2e2e" >0.2</text>
<text x="40.4" y="478.6" font-size="13.5" text-anchor="end" fill="#2e2e2e" >0</text>
<text x="40.4" y="432.74" font-size="13.5" text-anchor="end" fill="#2e2e2e" >0.1</text>
<text x="40.4" y="386.87" font-size="13.5" text-anchor="end" fill="#2e2e2e" >0.2</text>
<text x="45.4" y="489.5" font-size="13.5" text-anchor="middle" fill="#2e2e2e" >0</text>
<text x="112.43" y="489.5" font-size="13.5" text-anchor="middle" fill="#2e2e2e" >π/2</text>
<text x="179.45" y="489.5" font-size="13.5" text-anchor="middle" fill="#2e2e2e" >π</text>
<text x="246.48" y="489.5" font-size="13.5" text-anchor="middle" fill="#2e2e2e" >3π/2</text>
<text x="313.5" y="489.5" font-size="13.5" text-anchor="middle" fill="#2e2e2e" >2π</text>
<text x="179.45" y="507" font-size="15" text-anchor="middle" fill="#2e2e2e" >Ω</text>
<text transform="translate(18.8,323) rotate(-90)" font-size="15.5" text-anchor="middle" fill="#2e2e2e"><tspan font-style="italic">P</tspan>(Ω)</text>
<text transform="translate(18.8,423.5) rotate(-90)" font-size="15.5" text-anchor="middle" fill="#2e2e2e"><tspan font-style="italic">P</tspan>(Ω)</text>
<text x="2.5" y="254.3" font-size="20" text-anchor="start" font-weight="bold" fill="#000" >(c)</text>
<text x="235" y="354.1" font-size="27.4" text-anchor="start" fill="#000" >LSQS</text>
<text x="188.5" y="456.9" font-size="27.3" text-anchor="start" fill="#000" >RANDOM</text>
<rect x="380.2" y="267.6" width="257.7" height="207.2" fill="none" stroke="#2e2e2e" stroke-width="1.2"/>
<line x1="403.63" y1="474.8" x2="403.63" y2="472.1" stroke="#2e2e2e" stroke-width="1.0" />
<line x1="403.63" y1="267.6" x2="403.63" y2="270.3" stroke="#2e2e2e" stroke-width="1.0" />
<line x1="442.67" y1="474.8" x2="442.67" y2="472.1" stroke="#2e2e2e" stroke-width="1.0" />
<line x1="442.67" y1="267.6" x2="442.67" y2="270.3" stroke="#2e2e2e" stroke-width="1.0" />
<line x1="481.72" y1="474.8" x2="481.72" y2="472.1" stroke="#2e2e2e" stroke-width="1.0" />
<line x1="481.72" y1="267.6" x2="481.72" y2="270.3" stroke="#2e2e2e" stroke-width="1.0" />
<line x1="520.76" y1="474.8" x2="520.76" y2="472.1" stroke="#2e2e2e" stroke-width="1.0" />
<line x1="520.76" y1="267.6" x2="520.76" y2="270.3" stroke="#2e2e2e" stroke-width="1.0" />
<line x1="559.81" y1="474.8" x2="559.81" y2="472.1" stroke="#2e2e2e" stroke-width="1.0" />
<line x1="559.81" y1="267.6" x2="559.81" y2="270.3" stroke="#2e2e2e" stroke-width="1.0" />
<line x1="598.85" y1="474.8" x2="598.85" y2="472.1" stroke="#2e2e2e" stroke-width="1.0" />
<line x1="598.85" y1="267.6" x2="598.85" y2="270.3" stroke="#2e2e2e" stroke-width="1.0" />
<line x1="380.2" y1="474.8" x2="382.9" y2="474.8" stroke="#2e2e2e" stroke-width="1.0" />
<line x1="380.2" y1="397.1" x2="382.9" y2="397.1" stroke="#2e2e2e" stroke-width="1.0" />
<line x1="380.2" y1="319.4" x2="382.9" y2="319.4" stroke="#2e2e2e" stroke-width="1.0" />
<line x1="637.9" y1="474.8" x2="635.2" y2="474.8" stroke="#2e2e2e" stroke-width="1.0" />
<line x1="637.9" y1="371.2" x2="635.2" y2="371.2" stroke="#2e2e2e" stroke-width="1.0" />
<line x1="637.9" y1="267.6" x2="635.2" y2="267.6" stroke="#2e2e2e" stroke-width="1.0" />
<text x="375.7" y="479.6" font-size="14" text-anchor="end" fill="#2e2e2e" >0</text>
<text x="375.7" y="401.9" font-size="14" text-anchor="end" fill="#2e2e2e" >0.02</text>
<text x="375.7" y="324.2" font-size="14" text-anchor="end" fill="#2e2e2e" >0.04</text>
<text x="641.7" y="479.6" font-size="14" text-anchor="start" fill="#2e2e2e" >0</text>
<text x="641.7" y="376" font-size="14" text-anchor="start" fill="#2e2e2e" >0.4</text>
<text x="641.7" y="272.4" font-size="14" text-anchor="start" fill="#2e2e2e" >0.8</text>
<text x="403.63" y="492.6" font-size="14" text-anchor="middle" fill="#2e2e2e" >3.5</text>
<text x="442.67" y="492.6" font-size="14" text-anchor="middle" fill="#2e2e2e" >4</text>
<text x="481.72" y="492.6" font-size="14" text-anchor="middle" fill="#2e2e2e" >4.5</text>
<text x="520.76" y="492.6" font-size="14" text-anchor="middle" fill="#2e2e2e" >5</text>
<text x="559.81" y="492.6" font-size="14" text-anchor="middle" fill="#2e2e2e" >5.5</text>
<text x="598.85" y="492.6" font-size="14" text-anchor="middle" fill="#2e2e2e" >6</text>
<text x="637.9" y="492.6" font-size="14" text-anchor="middle" fill="#2e2e2e" >6.5</text>
<text x="509.5" y="510.5" font-size="17" text-anchor="middle" font-style="italic" fill="#2e2e2e" >Z</text>
<text transform="translate(346,371.6) rotate(-90)" font-size="17" text-anchor="middle" font-style="italic" fill="#2e2e2e">ω</text>
<text transform="translate(676.5,372.5) rotate(-90)" font-size="18" text-anchor="middle" font-style="italic" fill="#2e2e2e">f<tspan font-size="12.5" dy="4">b</tspan></text>
<text x="327.6" y="254.6" font-size="20" text-anchor="start" font-weight="bold" fill="#000" >(d)</text>
<polygon points="449.85,293.68 458.55,293.68 454.2,286.12" fill="none" stroke="#CC3440" stroke-width="1.15" stroke-linejoin="miter"/>
<polygon points="470.35,293.68 479.05,293.68 474.7,286.12" fill="none" stroke="#CC3440" stroke-width="1.15" stroke-linejoin="miter"/>
<polygon points="488.45,297.78 497.15,297.78 492.8,290.22" fill="none" stroke="#CC3440" stroke-width="1.15" stroke-linejoin="miter"/>
<polygon points="452.55,303.08 461.25,303.08 456.9,295.52" fill="none" stroke="#CC3440" stroke-width="1.15" stroke-linejoin="miter"/>
<polygon points="458.45,305.98 467.15,305.98 462.8,298.42" fill="none" stroke="#CC3440" stroke-width="1.15" stroke-linejoin="miter"/>
<polygon points="461.95,310.08 470.65,310.08 466.3,302.52" fill="none" stroke="#CC3440" stroke-width="1.15" stroke-linejoin="miter"/>
<polygon points="484.15,306.58 492.85,306.58 488.5,299.02" fill="none" stroke="#CC3440" stroke-width="1.15" stroke-linejoin="miter"/>
<polygon points="491.75,311.28 500.45,311.28 496.1,303.72" fill="none" stroke="#CC3440" stroke-width="1.15" stroke-linejoin="miter"/>
<polygon points="505.55,324.68 514.25,324.68 509.9,317.12" fill="none" stroke="#CC3440" stroke-width="1.15" stroke-linejoin="miter"/>
<polygon points="522.55,340.68 531.25,340.68 526.9,333.12" fill="none" stroke="#CC3440" stroke-width="1.15" stroke-linejoin="miter"/>
<polygon points="529.45,343.88 538.15,343.88 533.8,336.32" fill="none" stroke="#CC3440" stroke-width="1.15" stroke-linejoin="miter"/>
<polygon points="544.15,346.78 552.85,346.78 548.5,339.22" fill="none" stroke="#CC3440" stroke-width="1.15" stroke-linejoin="miter"/>
<rect x="532.6" y="313" width="6.2" height="6.2" fill="none" stroke="#CC3440" stroke-width="1.15"/>
<rect x="518.9" y="326.6" width="6.2" height="6.2" fill="none" stroke="#CC3440" stroke-width="1.15"/>
<rect x="526.2" y="325.8" width="6.2" height="6.2" fill="none" stroke="#CC3440" stroke-width="1.15"/>
<rect x="518.1" y="338.7" width="6.2" height="6.2" fill="none" stroke="#CC3440" stroke-width="1.15"/>
<rect x="552.7" y="325.8" width="6.2" height="6.2" fill="none" stroke="#CC3440" stroke-width="1.15"/>
<rect x="558.3" y="327.4" width="6.2" height="6.2" fill="none" stroke="#CC3440" stroke-width="1.15"/>
<rect x="571.9" y="330.3" width="6.2" height="6.2" fill="none" stroke="#CC3440" stroke-width="1.15"/>
<rect x="608.1" y="353.1" width="6.2" height="6.2" fill="none" stroke="#CC3440" stroke-width="1.15"/>
<circle cx="543.7" cy="318.5" r="3.6" fill="none" stroke="#CC3440" stroke-width="1.15"/>
<circle cx="538.9" cy="332.9" r="3.6" fill="none" stroke="#CC3440" stroke-width="1.15"/>
<circle cx="541.3" cy="336.1" r="3.6" fill="none" stroke="#CC3440" stroke-width="1.15"/>
<circle cx="544.5" cy="339.3" r="3.6" fill="none" stroke="#CC3440" stroke-width="1.15"/>
<circle cx="561.1" cy="339.3" r="3.6" fill="none" stroke="#CC3440" stroke-width="1.15"/>
<circle cx="578.7" cy="351.7" r="3.6" fill="none" stroke="#CC3440" stroke-width="1.15"/>
<circle cx="547.7" cy="325.7" r="3.6" fill="none" stroke="#CC3440" stroke-width="1.15"/>
<polygon points="449.65,308.28 458.35,308.28 454,300.72" fill="none" stroke="#3258B0" stroke-width="1.15" stroke-linejoin="miter"/>
<polygon points="452.05,310.38 460.75,310.38 456.4,302.82" fill="none" stroke="#3258B0" stroke-width="1.15" stroke-linejoin="miter"/>
<polygon points="459.05,312.98 467.75,312.98 463.4,305.42" fill="none" stroke="#3258B0" stroke-width="1.15" stroke-linejoin="miter"/>
<polygon points="461.95,308.88 470.65,308.88 466.3,301.32" fill="none" stroke="#3258B0" stroke-width="1.15" stroke-linejoin="miter"/>
<polygon points="470.35,308.88 479.05,308.88 474.7,301.32" fill="none" stroke="#3258B0" stroke-width="1.15" stroke-linejoin="miter"/>
<polygon points="484.65,308.88 493.35,308.88 489,301.32" fill="none" stroke="#3258B0" stroke-width="1.15" stroke-linejoin="miter"/>
<polygon points="488.25,310.68 496.95,310.68 492.6,303.12" fill="none" stroke="#3258B0" stroke-width="1.15" stroke-linejoin="miter"/>
<polygon points="491.75,313.58 500.45,313.58 496.1,306.02" fill="none" stroke="#3258B0" stroke-width="1.15" stroke-linejoin="miter"/>
<polygon points="505.55,313.58 514.25,313.58 509.9,306.02" fill="none" stroke="#3258B0" stroke-width="1.15" stroke-linejoin="miter"/>
<polygon points="521.75,315.78 530.45,315.78 526.1,308.22" fill="none" stroke="#3258B0" stroke-width="1.15" stroke-linejoin="miter"/>
<polygon points="529.45,317.48 538.15,317.48 533.8,309.92" fill="none" stroke="#3258B0" stroke-width="1.15" stroke-linejoin="miter"/>
<polygon points="544.95,322.78 553.65,322.78 549.3,315.22" fill="none" stroke="#3258B0" stroke-width="1.15" stroke-linejoin="miter"/>
<rect x="518.1" y="317.5" width="6.2" height="6.2" fill="none" stroke="#3258B0" stroke-width="1.15"/>
<rect x="519.7" y="317.5" width="6.2" height="6.2" fill="none" stroke="#3258B0" stroke-width="1.15"/>
<rect x="526.2" y="319.1" width="6.2" height="6.2" fill="none" stroke="#3258B0" stroke-width="1.15"/>
<rect x="532.6" y="321" width="6.2" height="6.2" fill="none" stroke="#3258B0" stroke-width="1.15"/>
<rect x="551.9" y="328.2" width="6.2" height="6.2" fill="none" stroke="#3258B0" stroke-width="1.15"/>
<rect x="557.5" y="328.2" width="6.2" height="6.2" fill="none" stroke="#3258B0" stroke-width="1.15"/>
<rect x="571.9" y="330.9" width="6.2" height="6.2" fill="none" stroke="#3258B0" stroke-width="1.15"/>
<rect x="608.1" y="347.5" width="6.2" height="6.2" fill="none" stroke="#3258B0" stroke-width="1.15"/>
<circle cx="539.7" cy="324.9" r="3.6" fill="none" stroke="#3258B0" stroke-width="1.15"/>
<circle cx="542.1" cy="325.7" r="3.6" fill="none" stroke="#3258B0" stroke-width="1.15"/>
<circle cx="544.5" cy="327.3" r="3.6" fill="none" stroke="#3258B0" stroke-width="1.15"/>
<circle cx="549.3" cy="326.5" r="3.6" fill="none" stroke="#3258B0" stroke-width="1.15"/>
<circle cx="551.8" cy="328.9" r="3.6" fill="none" stroke="#3258B0" stroke-width="1.15"/>
<circle cx="561.4" cy="332.1" r="3.6" fill="none" stroke="#3258B0" stroke-width="1.15"/>
<circle cx="579" cy="338.9" r="3.6" fill="none" stroke="#3258B0" stroke-width="1.15"/>
<circle cx="525.9" cy="398.2" r="3.7" fill="#EE9A84" stroke="#2a2a2a" stroke-width="1.0"/>
<circle cx="537.3" cy="405.9" r="3.7" fill="#EE9A84" stroke="#2a2a2a" stroke-width="1.0"/>
<circle cx="549.1" cy="426.2" r="3.7" fill="#EE9A84" stroke="#2a2a2a" stroke-width="1.0"/>
<circle cx="561" cy="422.7" r="3.7" fill="#EE9A84" stroke="#2a2a2a" stroke-width="1.0"/>
<circle cx="563.4" cy="415.2" r="3.7" fill="#EE9A84" stroke="#2a2a2a" stroke-width="1.0"/>
<circle cx="570.4" cy="418.7" r="3.7" fill="#EE9A84" stroke="#2a2a2a" stroke-width="1.0"/>
<circle cx="572.2" cy="394.7" r="3.7" fill="#EE9A84" stroke="#2a2a2a" stroke-width="1.0"/>
<circle cx="582.7" cy="392.4" r="3.7" fill="#EE9A84" stroke="#2a2a2a" stroke-width="1.0"/>
<circle cx="592.5" cy="398.9" r="3.7" fill="#EE9A84" stroke="#2a2a2a" stroke-width="1.0"/>
<circle cx="598.5" cy="395.4" r="3.7" fill="#EE9A84" stroke="#2a2a2a" stroke-width="1.0"/>
<circle cx="525.9" cy="405.9" r="3.7" fill="#8DB6E6" stroke="#2a2a2a" stroke-width="1.0"/>
<circle cx="537.3" cy="403.8" r="3.7" fill="#8DB6E6" stroke="#2a2a2a" stroke-width="1.0"/>
<circle cx="549.1" cy="414" r="3.7" fill="#8DB6E6" stroke="#2a2a2a" stroke-width="1.0"/>
<circle cx="555.2" cy="409.1" r="3.7" fill="#8DB6E6" stroke="#2a2a2a" stroke-width="1.0"/>
<circle cx="561" cy="412.6" r="3.7" fill="#8DB6E6" stroke="#2a2a2a" stroke-width="1.0"/>
<circle cx="563.1" cy="407" r="3.7" fill="#8DB6E6" stroke="#2a2a2a" stroke-width="1.0"/>
<circle cx="570.4" cy="411.7" r="3.7" fill="#8DB6E6" stroke="#2a2a2a" stroke-width="1.0"/>
<circle cx="572.2" cy="398.2" r="3.7" fill="#8DB6E6" stroke="#2a2a2a" stroke-width="1.0"/>
<circle cx="582.7" cy="398.2" r="3.7" fill="#8DB6E6" stroke="#2a2a2a" stroke-width="1.0"/>
<circle cx="592.5" cy="388.9" r="3.7" fill="#8DB6E6" stroke="#2a2a2a" stroke-width="1.0"/>
<circle cx="598.5" cy="387.2" r="3.7" fill="#8DB6E6" stroke="#2a2a2a" stroke-width="1.0"/>
<circle cx="578.2" cy="280.4" r="3.7" fill="none" stroke="#CC3440" stroke-width="1.1"/>
<text x="588.6" y="285" font-size="13" text-anchor="start" fill="#2e2e2e" >Tapping</text>
<circle cx="578.2" cy="295.7" r="3.7" fill="#EE9A84" stroke="#2a2a2a" stroke-width="1.0"/>
<text x="588.6" y="300.3" font-size="13" text-anchor="start" fill="#2e2e2e" >Raining</text>
<rect x="415.5" y="373.8" width="104" height="66.7" fill="#fff" stroke="none"/>
<rect x="415.5" y="373.8" width="104" height="66.7" fill="none" stroke="#2e2e2e" stroke-width="0.9"/>
<line x1="415.5" y1="440.5" x2="415.5" y2="438.5" stroke="#2e2e2e" stroke-width="0.9" />
<line x1="415.5" y1="373.8" x2="415.5" y2="375.8" stroke="#2e2e2e" stroke-width="0.9" />
<line x1="457.1" y1="440.5" x2="457.1" y2="438.5" stroke="#2e2e2e" stroke-width="0.9" />
<line x1="457.1" y1="373.8" x2="457.1" y2="375.8" stroke="#2e2e2e" stroke-width="0.9" />
<line x1="498.7" y1="440.5" x2="498.7" y2="438.5" stroke="#2e2e2e" stroke-width="0.9" />
<line x1="498.7" y1="373.8" x2="498.7" y2="375.8" stroke="#2e2e2e" stroke-width="0.9" />
<line x1="415.5" y1="440.5" x2="417.5" y2="440.5" stroke="#2e2e2e" stroke-width="0.9" />
<line x1="519.5" y1="440.5" x2="517.5" y2="440.5" stroke="#2e2e2e" stroke-width="0.9" />
<line x1="415.5" y1="421.44" x2="417.5" y2="421.44" stroke="#2e2e2e" stroke-width="0.9" />
<line x1="519.5" y1="421.44" x2="517.5" y2="421.44" stroke="#2e2e2e" stroke-width="0.9" />
<line x1="415.5" y1="402.39" x2="417.5" y2="402.39" stroke="#2e2e2e" stroke-width="0.9" />
<line x1="519.5" y1="402.39" x2="517.5" y2="402.39" stroke="#2e2e2e" stroke-width="0.9" />
<line x1="415.5" y1="383.33" x2="417.5" y2="383.33" stroke="#2e2e2e" stroke-width="0.9" />
<line x1="519.5" y1="383.33" x2="517.5" y2="383.33" stroke="#2e2e2e" stroke-width="0.9" />
<text x="412.5" y="444.3" font-size="11" text-anchor="end" fill="#2e2e2e" >0.2</text>
<text x="412.5" y="425.24" font-size="11" text-anchor="end" fill="#2e2e2e" >0.4</text>
<text x="412.5" y="406.19" font-size="11" text-anchor="end" fill="#2e2e2e" >0.6</text>
<text x="412.5" y="387.13" font-size="11" text-anchor="end" fill="#2e2e2e" >0.8</text>
<text x="415.5" y="453.6" font-size="11" text-anchor="middle" fill="#2e2e2e" >4</text>
<text x="457.1" y="453.6" font-size="11" text-anchor="middle" fill="#2e2e2e" >5</text>
<text x="498.7" y="453.6" font-size="11" text-anchor="middle" fill="#2e2e2e" >6</text>
<text x="467.9" y="467" font-size="12" text-anchor="middle" font-style="italic" fill="#2e2e2e" >Z</text>
<text transform="translate(391.5,407.8) rotate(-90)" font-size="14" text-anchor="middle" font-style="italic" fill="#2e2e2e">f<tspan font-size="10" dy="3.5">b</tspan></text>
<polygon points="418,387.7 424.2,387.7 421.1,382.3" fill="none" stroke="#C8424C" stroke-width="0.9" stroke-linejoin="miter"/>
<polygon points="424.2,387 430.4,387 427.3,381.6" fill="none" stroke="#C8424C" stroke-width="0.9" stroke-linejoin="miter"/>
<polygon points="429.5,386.7 435.7,386.7 432.6,381.3" fill="none" stroke="#C8424C" stroke-width="0.9" stroke-linejoin="miter"/>
<polygon points="437.2,385.4 443.4,385.4 440.3,380" fill="none" stroke="#C8424C" stroke-width="0.9" stroke-linejoin="miter"/>
<polygon points="440.3,385.4 446.5,385.4 443.4,380" fill="none" stroke="#C8424C" stroke-width="0.9" stroke-linejoin="miter"/>
<polygon points="447.9,383.6 454.1,383.6 451,378.2" fill="none" stroke="#C8424C" stroke-width="0.9" stroke-linejoin="miter"/>
<polygon points="457.1,382.4 463.3,382.4 460.2,377" fill="none" stroke="#C8424C" stroke-width="0.9" stroke-linejoin="miter"/>
<polygon points="460.9,382.4 467.1,382.4 464,377" fill="none" stroke="#C8424C" stroke-width="0.9" stroke-linejoin="miter"/>
<polygon points="468.6,381.6 474.8,381.6 471.7,376.2" fill="none" stroke="#C8424C" stroke-width="0.9" stroke-linejoin="miter"/>
<rect x="464.9" y="379.8" width="4.4" height="4.4" fill="none" stroke="#C8424C" stroke-width="0.9"/>
<rect x="472.6" y="379.8" width="4.4" height="4.4" fill="none" stroke="#C8424C" stroke-width="0.9"/>
<rect x="475.6" y="379.8" width="4.4" height="4.4" fill="none" stroke="#C8424C" stroke-width="0.9"/>
<rect x="503.2" y="376.7" width="4.4" height="4.4" fill="none" stroke="#C8424C" stroke-width="0.9"/>
<circle cx="486.3" cy="381.5" r="2.6" fill="none" stroke="#C8424C" stroke-width="0.9"/>
<circle cx="488.6" cy="381.5" r="2.6" fill="none" stroke="#C8424C" stroke-width="0.9"/>
<polygon points="418,391.6 424.2,391.6 421.1,386.2" fill="none" stroke="#48A040" stroke-width="0.9" stroke-linejoin="miter"/>
<polygon points="423.4,393.9 429.6,393.9 426.5,388.5" fill="none" stroke="#48A040" stroke-width="0.9" stroke-linejoin="miter"/>
<polygon points="429.5,390 435.7,390 432.6,384.6" fill="none" stroke="#48A040" stroke-width="0.9" stroke-linejoin="miter"/>
<polygon points="437.2,389.3 443.4,389.3 440.3,383.9" fill="none" stroke="#48A040" stroke-width="0.9" stroke-linejoin="miter"/>
<polygon points="440.3,388.8 446.5,388.8 443.4,383.4" fill="none" stroke="#48A040" stroke-width="0.9" stroke-linejoin="miter"/>
<polygon points="447.9,388.8 454.1,388.8 451,383.4" fill="none" stroke="#48A040" stroke-width="0.9" stroke-linejoin="miter"/>
<polygon points="457.1,388.5 463.3,388.5 460.2,383.1" fill="none" stroke="#48A040" stroke-width="0.9" stroke-linejoin="miter"/>
<polygon points="460.9,388.8 467.1,388.8 464,383.4" fill="none" stroke="#48A040" stroke-width="0.9" stroke-linejoin="miter"/>
<polygon points="468.6,388.2 474.8,388.2 471.7,382.8" fill="none" stroke="#48A040" stroke-width="0.9" stroke-linejoin="miter"/>
<rect x="454.2" y="386.4" width="4.4" height="4.4" fill="none" stroke="#48A040" stroke-width="0.9"/>
<rect x="458.8" y="386.4" width="4.4" height="4.4" fill="none" stroke="#48A040" stroke-width="0.9"/>
<rect x="463.4" y="386.4" width="4.4" height="4.4" fill="none" stroke="#48A040" stroke-width="0.9"/>
<rect x="468" y="385.9" width="4.4" height="4.4" fill="none" stroke="#48A040" stroke-width="0.9"/>
<rect x="472.6" y="386.4" width="4.4" height="4.4" fill="none" stroke="#48A040" stroke-width="0.9"/>
<rect x="476.4" y="385.9" width="4.4" height="4.4" fill="none" stroke="#48A040" stroke-width="0.9"/>
<rect x="503.2" y="387" width="4.4" height="4.4" fill="none" stroke="#48A040" stroke-width="0.9"/>
<circle cx="485.5" cy="388.1" r="2.6" fill="none" stroke="#48A040" stroke-width="0.9"/>
<circle cx="488.6" cy="388.1" r="2.6" fill="none" stroke="#48A040" stroke-width="0.9"/>
<polygon points="418,398.5 424.2,398.5 421.1,393.1" fill="none" stroke="#4A7EC2" stroke-width="0.9" stroke-linejoin="miter"/>
<polygon points="423.4,400 429.6,400 426.5,394.6" fill="none" stroke="#4A7EC2" stroke-width="0.9" stroke-linejoin="miter"/>
<polygon points="429.5,399.2 435.7,399.2 432.6,393.8" fill="none" stroke="#4A7EC2" stroke-width="0.9" stroke-linejoin="miter"/>
<polygon points="436.4,399.2 442.6,399.2 439.5,393.8" fill="none" stroke="#4A7EC2" stroke-width="0.9" stroke-linejoin="miter"/>
<polygon points="440.3,400 446.5,400 443.4,394.6" fill="none" stroke="#4A7EC2" stroke-width="0.9" stroke-linejoin="miter"/>
<polygon points="447.9,401.1 454.1,401.1 451,395.7" fill="none" stroke="#4A7EC2" stroke-width="0.9" stroke-linejoin="miter"/>
<polygon points="457.1,401.5 463.3,401.5 460.2,396.1" fill="none" stroke="#4A7EC2" stroke-width="0.9" stroke-linejoin="miter"/>
<polygon points="460.9,402 467.1,402 464,396.6" fill="none" stroke="#4A7EC2" stroke-width="0.9" stroke-linejoin="miter"/>
<polygon points="468.6,403.5 474.8,403.5 471.7,398.1" fill="none" stroke="#4A7EC2" stroke-width="0.9" stroke-linejoin="miter"/>
<rect x="454.2" y="400.1" width="4.4" height="4.4" fill="none" stroke="#4A7EC2" stroke-width="0.9"/>
<rect x="458.8" y="401.2" width="4.4" height="4.4" fill="none" stroke="#4A7EC2" stroke-width="0.9"/>
<rect x="463.4" y="402" width="4.4" height="4.4" fill="none" stroke="#4A7EC2" stroke-width="0.9"/>
<rect x="468" y="403.2" width="4.4" height="4.4" fill="none" stroke="#4A7EC2" stroke-width="0.9"/>
<rect x="472.6" y="403.8" width="4.4" height="4.4" fill="none" stroke="#4A7EC2" stroke-width="0.9"/>
<rect x="476.4" y="404.3" width="4.4" height="4.4" fill="none" stroke="#4A7EC2" stroke-width="0.9"/>
<rect x="503.2" y="411.6" width="4.4" height="4.4" fill="none" stroke="#4A7EC2" stroke-width="0.9"/>
<circle cx="485.5" cy="407.3" r="2.6" fill="none" stroke="#4A7EC2" stroke-width="0.9"/>
<circle cx="488.6" cy="408.5" r="2.6" fill="none" stroke="#4A7EC2" stroke-width="0.9"/>
<polygon points="417.8,412.68 424.2,412.68 421,407.12" fill="none" stroke="#4A7EC2" stroke-width="0.9" stroke-linejoin="miter"/>
<text x="425" y="413.4" font-size="10" text-anchor="start" fill="#2e2e2e" >LCOM</text>
<polygon points="417.8,423.63 424.2,423.63 421,418.07" fill="none" stroke="#C8424C" stroke-width="0.9" stroke-linejoin="miter"/>
<text x="425" y="424.35" font-size="10" text-anchor="start" fill="#2e2e2e" >LSQS</text>
<polygon points="417.8,434.58 424.2,434.58 421,429.02" fill="none" stroke="#48A040" stroke-width="0.9" stroke-linejoin="miter"/>
<text x="425" y="435.3" font-size="10" text-anchor="start" fill="#2e2e2e" >RANDOM</text>
</svg></body></html>
